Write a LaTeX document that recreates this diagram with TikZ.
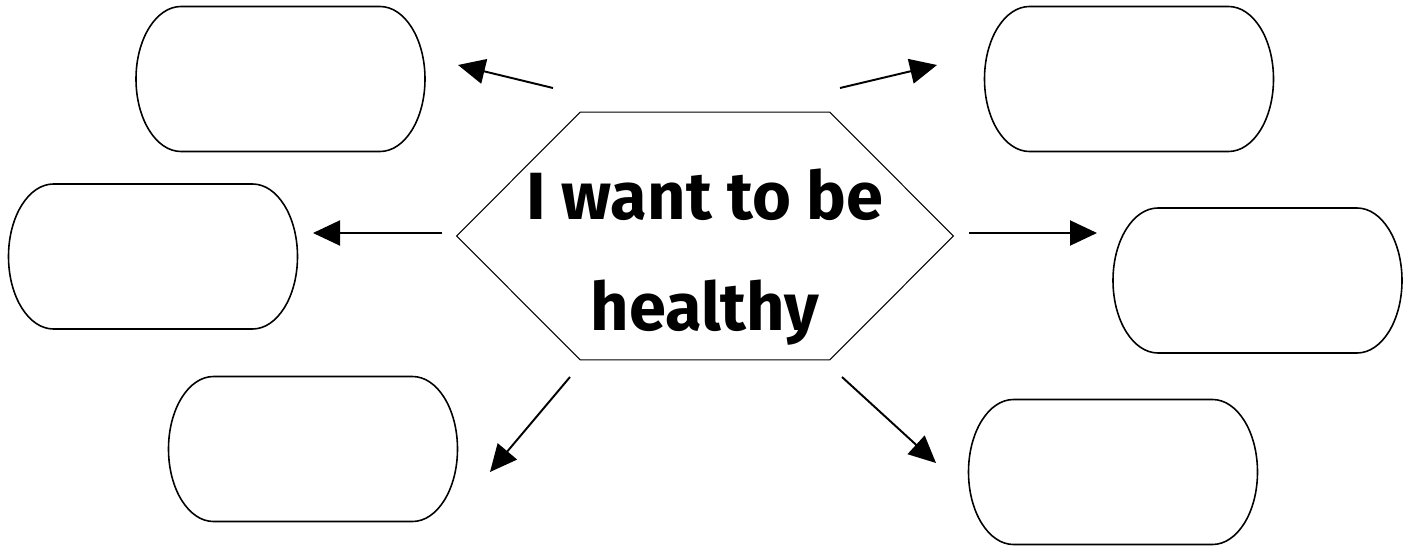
\documentclass[tikz,border=0pt]{standalone}
\usepackage{fontspec}
\setmainfont{Fira Sans}
\usetikzlibrary{arrows.meta, positioning, calc}

\begin{document}
\begin{tikzpicture}[
    pill/.style={rectangle, minimum width=5.78cm, minimum height=2.9cm, inner sep=0pt, outer sep=0pt},
    hexa/.style={rectangle, minimum width=9.92cm, minimum height=4.94cm, inner sep=0pt},
    bigtext/.style={align=center, inner sep=0pt, font=\fontsize{38}{63}\selectfont\bfseries},
    outline/.style={draw=black, line width=0.9pt},
    link/.style={-{Triangle[length=0.54cm, width=0.5cm]}, line width=1.1pt}
]
    \useasboundingbox (0,0) rectangle (28.22,10.9);

    % centre
    \node[hexa] (goal) at (14.10,6.18) {};
    \draw[draw=black, line width=0.6pt] (goal.west) -- ([xshift=2.47cm]goal.north west) -- ([xshift=-2.47cm]goal.north east)
        -- (goal.east) -- ([xshift=-2.47cm]goal.south east) -- ([xshift=2.47cm]goal.south west) -- cycle;
    \node[bigtext] (goaltext) at ([yshift=-0.42cm]goal.center) {I want to be\\healthy};

    % empty boxes
    \node[pill] (topleft) at (5.61,9.32) {};
    \node[pill] (midleft) at (3.06,5.77) {};
    \node[pill] (botleft) at (6.26,1.92) {};
    \node[pill] (topright) at (22.58,9.32) {};
    \node[pill] (midright) at (25.15,5.29) {};
    \node[pill] (botright) at (22.26,1.46) {};
    \foreach \b in {topleft, midleft, botleft, topright, midright, botright}
        \draw[outline] ([xshift=0.9cm]\b.north west) -- ([xshift=-0.9cm]\b.north east)
            arc[start angle=90, end angle=-90, x radius=0.9cm, y radius=1.45cm]
            -- ([xshift=0.9cm]\b.south west)
            arc[start angle=270, end angle=90, x radius=0.9cm, y radius=1.45cm] -- cycle;

    % arrows
    \coordinate (a1s) at (11.06,9.14); \coordinate (a1e) at (9.16,9.60);
    \coordinate (a2s) at (16.80,9.14); \coordinate (a2e) at (18.74,9.60);
    \coordinate (a3s) at (8.84,6.24);  \coordinate (a3e) at (6.26,6.24);
    \coordinate (a4s) at (19.38,6.24); \coordinate (a4e) at (21.94,6.24);
    \coordinate (a5s) at (11.40,3.36); \coordinate (a5e) at (9.80,1.46);
    \coordinate (a6s) at (16.84,3.36); \coordinate (a6e) at (18.72,1.64);
    \foreach \i in {1,...,6}
        \draw[link] (a\i s) -- (a\i e);
\end{tikzpicture}
\end{document}
